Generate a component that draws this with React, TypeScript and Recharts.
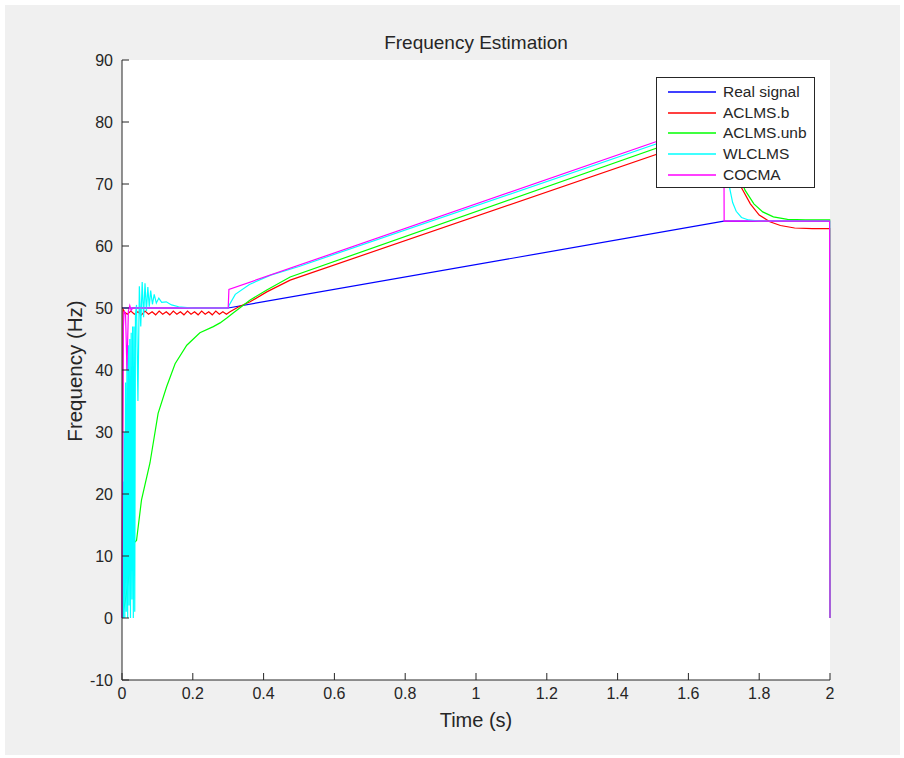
import { LineChart, Line, XAxis, YAxis } from "recharts";

// time axis ticks and frequency axis ticks
const timeTicks = [0, 0.2, 0.4, 0.6, 0.8, 1, 1.2, 1.4, 1.6, 1.8, 2];
const freqTicks = [-10, 0, 10, 20, 30, 40, 50, 60, 70, 80, 90];

// Real signal
const realTime = [0, 0.3, 1.7, 2];
const realFreq = [50, 50, 64, 64];

// ACLMS.b
const aclmsBTime = [0, 0.003, 0.008, 0.015, 0.025, 0.035, 0.045, 0.055, 0.065, 0.075, 0.085, 0.095, 0.105, 0.115, 0.125, 0.135, 0.145, 0.155, 0.165, 0.175, 0.185, 0.195, 0.205, 0.215, 0.225, 0.235, 0.245, 0.255, 0.265, 0.275, 0.285, 0.295, 0.305, 0.33, 0.362, 0.409, 0.475, 1.7, 1.715, 1.73, 1.75, 1.775, 1.8, 1.83, 1.86, 1.9, 1.95, 1.999, 2];
const aclmsBFreq = [0, 49.8, 49.3, 49.0, 49.5, 49.0, 49.4, 48.9, 49.5, 49.0, 49.4, 48.9, 49.5, 49.0, 49.4, 48.9, 49.5, 49.0, 49.4, 48.9, 49.5, 49.0, 49.4, 48.9, 49.5, 49.0, 49.4, 48.9, 49.5, 49.0, 49.4, 49.0, 49.4, 50.2, 51.0, 52.6, 54.5, 78.5, 75.5, 72.6, 69.4, 66.8, 65.0, 63.9, 63.3, 62.9, 62.8, 62.8, 0];

// ACLMS.unb
const aclmsUnbTime = [0, 0.01, 0.02, 0.032, 0.041, 0.055, 0.079, 0.102, 0.126, 0.15, 0.183, 0.22, 0.258, 0.277, 0.296, 0.314, 0.362, 0.409, 0.475, 1.7, 1.72, 1.74, 1.76, 1.785, 1.81, 1.84, 1.88, 1.93, 1.999, 2];
const aclmsUnbFreq = [0, 3, 7, 12, 12.5, 19, 25, 33, 37.3, 41, 44, 46, 47, 47.6, 48.4, 49.2, 51.3, 52.9, 55, 79.6, 75.5, 71.8, 69.0, 66.8, 65.5, 64.7, 64.3, 64.2, 64.2, 0];

// WLCLMS
const wlclmsTime = [0, 0.002, 0.004, 0.006, 0.008, 0.01, 0.012, 0.014, 0.016, 0.018, 0.02, 0.022, 0.024, 0.026, 0.028, 0.03, 0.032, 0.034, 0.036, 0.038, 0.041, 0.045, 0.049, 0.053, 0.057, 0.061, 0.065, 0.069, 0.073, 0.077, 0.081, 0.086, 0.091, 0.097, 0.104, 0.112, 0.125, 0.14, 0.16, 0.2, 0.3, 0.303, 0.32, 0.36, 0.42, 0.5, 1.7, 1.704, 1.71, 1.717, 1.725, 1.735, 1.75, 1.77, 1.8, 1.999, 2];
const wlclmsFreq = [0, 22, 0, 30, 0, 38, 1, 42, 0, 44, 2, 45, 0, 46, 3, 47, 0, 47, 1, 49, 50.5, 35, 53.5, 47, 54.2, 48.5, 54, 49.5, 53.4, 50.2, 52.8, 50.6, 52.2, 50.8, 51.6, 50.9, 51.0, 50.5, 50.2, 50.0, 50.0, 50.5, 52.2, 53.8, 55.3, 56.7, 80.2, 77, 72.5, 69.2, 67, 65.6, 64.6, 64.2, 64.0, 64.0, 0];

// COCMA
const cocmaTime = [0, 0.002, 0.004, 0.006, 0.01, 0.014, 0.018, 0.022, 0.026, 0.03, 0.3, 0.302, 1.7, 1.701, 1.999, 2];
const cocmaFreq = [0, 27, 47, 49.5, 49, 40, 49.5, 50.4, 49.6, 50, 50, 53, 80.6, 64, 64, 0];

const toPoints = (t: number[], f: number[]) => t.map((x, i) => ({ t: x, f: f[i] }));

const series = [
  { name: "Real signal", color: "#0000ff", data: toPoints(realTime, realFreq) },
  { name: "ACLMS.b", color: "#ff0000", data: toPoints(aclmsBTime, aclmsBFreq) },
  { name: "ACLMS.unb", color: "#00ff00", data: toPoints(aclmsUnbTime, aclmsUnbFreq) },
  { name: "WLCLMS", color: "#00ffff", data: toPoints(wlclmsTime, wlclmsFreq) },
  { name: "COCMA", color: "#ff00ff", data: toPoints(cocmaTime, cocmaFreq) },
];

const AXIS = "#262626";
const FONT = "'Liberation Sans', Arial, sans-serif";
const TICK = 7;
const TICK_FONT = 16;

const BottomTick = ({ x, y, payload }: any) => (
  <g>
    <line x1={x} x2={x} y1={y} y2={y - TICK} stroke={AXIS} />
    <text x={x} y={y + 19} textAnchor="middle" fill={AXIS} fontSize={TICK_FONT} fontFamily={FONT}>
      {payload.value}
    </text>
  </g>
);

const TopTick = ({ x, y }: any) => <line x1={x} x2={x} y1={y} y2={y + TICK} stroke={AXIS} />;

const LeftTick = ({ x, y, payload }: any) => (
  <g>
    <line x1={x} x2={x + TICK} y1={y} y2={y} stroke={AXIS} />
    <text x={x - 9} y={y + 5.5} textAnchor="end" fill={AXIS} fontSize={TICK_FONT} fontFamily={FONT}>
      {payload.value}
    </text>
  </g>
);

const RightTick = ({ x, y }: any) => <line x1={x} x2={x - TICK} y1={y} y2={y} stroke={AXIS} />;

export default function App() {
  return (
    <div style={{ position: "absolute", left: 0, top: 0, width: 904, height: 758, background: "#ffffff", fontFamily: FONT }}>
      <div style={{ position: "absolute", left: 5, top: 5, width: 895, height: 750, background: "#f0f0f0" }} />
      <div style={{ position: "absolute", left: 122, top: 60, width: 708, height: 620, background: "#ffffff" }} />
      <div style={{ position: "absolute", left: 0, top: 0 }}>
        <LineChart width={904} height={758} margin={{ top: 60, right: 74, bottom: 38, left: 72 }}>
          <XAxis
            dataKey="t"
            type="number"
            domain={[0, 2]}
            ticks={timeTicks}
            height={40}
            tickSize={0}
            tickMargin={0}
            tickLine={false}
            axisLine={{ stroke: AXIS }}
            tick={<BottomTick />}
            interval={0}
          />
          <XAxis
            xAxisId="top"
            orientation="top"
            dataKey="t"
            type="number"
            domain={[0, 2]}
            ticks={timeTicks}
            height={0}
            tickSize={0}
            tickMargin={0}
            tickLine={false}
            axisLine={{ stroke: AXIS }}
            tick={<TopTick />}
            interval={0}
          />
          <YAxis
            type="number"
            domain={[-10, 90]}
            ticks={freqTicks}
            width={50}
            tickSize={0}
            tickMargin={0}
            tickLine={false}
            axisLine={{ stroke: AXIS }}
            tick={<LeftTick />}
            interval={0}
          />
          <YAxis
            yAxisId="right"
            orientation="right"
            type="number"
            domain={[-10, 90]}
            ticks={freqTicks}
            width={0}
            tickSize={0}
            tickMargin={0}
            tickLine={false}
            axisLine={{ stroke: AXIS }}
            tick={<RightTick />}
            interval={0}
          />
          {series.map((s) => (
            <Line
              key={s.name}
              data={s.data}
              dataKey="f"
              name={s.name}
              type="linear"
              stroke={s.color}
              strokeWidth={1.2}
              dot={false}
              isAnimationActive={false}
            />
          ))}
        </LineChart>
      </div>
      <div style={{ position: "absolute", left: 0, width: 952, top: 32, textAlign: "center", fontSize: 19, color: AXIS }}>
        Frequency Estimation
      </div>
      <div style={{ position: "absolute", left: 0, width: 952, top: 709, textAlign: "center", fontSize: 20, color: AXIS }}>
        Time (s)
      </div>
      <div
        style={{
          position: "absolute",
          left: 75,
          top: 371,
          transform: "translate(-50%, -50%) rotate(-90deg)",
          whiteSpace: "nowrap",
          fontSize: 20.5,
          color: AXIS,
          lineHeight: "24px",
        }}
      >
        Frequency (Hz)
      </div>
      <div
        style={{
          position: "absolute",
          left: 656,
          top: 77,
          width: 157,
          height: 105,
          border: `1px solid ${AXIS}`,
          background: "#ffffff",
          paddingTop: 4,
          boxSizing: "content-box",
        }}
      >
        {series.map((s) => (
          <div key={s.name} style={{ display: "flex", alignItems: "center", height: 20.6 }}>
            <svg width={60} height={4} style={{ display: "block" }}>
              <line x1={11} x2={59} y1={2} y2={2} stroke={s.color} strokeWidth={1.5} />
            </svg>
            <div style={{ marginLeft: 6, fontSize: 15.5, color: AXIS, lineHeight: "20px" }}>{s.name}</div>
          </div>
        ))}
      </div>
    </div>
  );
}
